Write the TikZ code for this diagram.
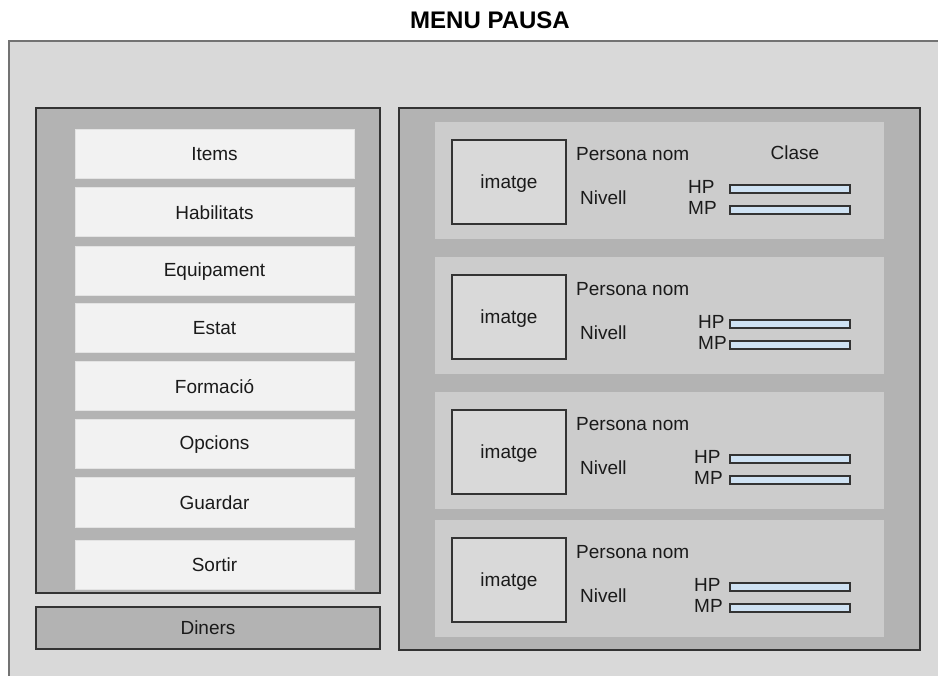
\documentclass[tikz,border=0pt]{standalone}
\usepackage{fontspec}
\setmainfont{Liberation Sans}
\definecolor{bgout}{HTML}{D9D9D9}
\definecolor{panel}{HTML}{B3B3B3}
\definecolor{btn}{HTML}{F2F2F2}
\definecolor{btnline}{HTML}{E3E3E3}
\definecolor{card}{HTML}{CCCCCC}
\definecolor{img}{HTML}{D9D9D9}
\definecolor{bar}{HTML}{CFE2F3}
\definecolor{ink}{HTML}{1A1A1A}
\definecolor{edge}{HTML}{333333}
\tikzset{
  txt/.style={font=\fontsize{19}{21}\selectfont, text=ink, inner sep=0pt},
  menubtn/.style={rectangle, fill=btn, draw=btnline, line width=1pt, minimum width=279pt, minimum height=49pt, inner sep=0pt, txt},
  panelbox/.style={fill=panel, draw=edge, line width=1.3pt},
  cardbox/.style={fill=card},
  imgbox/.style={fill=img, draw=edge, line width=1.3pt},
  barbox/.style={fill=bar, draw=edge, line width=1.2pt},
}
\begin{document}
\begin{tikzpicture}[x=1pt,y=-1pt]
\useasboundingbox (0,0) rectangle (938,676);
\fill[white] (0,0) rectangle (938,676);
% outer frame
\filldraw[fill=bgout, draw=gray!90!black, line width=2pt] (9,41) rectangle (950,690);
\node[txt, font=\fontsize{24}{26}\selectfont\bfseries, text=black] (title) at (490,20) {MENU PAUSA};
% left panel
\filldraw[panelbox] (36,108) rectangle (380,593);
\node[menubtn] (items) at (214.5,154.5) {Items};
\node[menubtn] (habilitats) at (214.5,212.5) {Habilitats};
\node[menubtn] (equipament) at (214.5,271.5) {Equipament};
\node[menubtn] (estat) at (214.5,328.5) {Estat};
\node[menubtn] (formacio) at (214.5,386.5) {Formació};
\node[menubtn] (opcions) at (214.5,444.5) {Opcions};
\node[menubtn] (guardar) at (214.5,502.5) {Guardar};
\node[menubtn] (sortir) at (214.5,564.5) {Sortir};
% diners
\node[panelbox, rectangle, minimum width=344pt, minimum height=42pt, inner sep=0pt, txt] (diners) at (208,628) {Diners};
% right panel
\filldraw[panelbox] (399,108) rectangle (920,650);
\foreach \i/\T/\hx in {1/122/688, 2/257/698, 3/392/694, 4/520/694}{
  \fill[cardbox] (435,\T) rectangle (884,\T+117);
  \node[imgbox, rectangle, minimum width=114pt, minimum height=84pt, inner sep=0pt] (img\i) at (509,\T+60) {};
  \node[txt] (imgtxt\i) at (509,\T+62) {imatge};
  \node[txt, anchor=west] (nom\i) at (576,\T+32) {Persona nom};
  \node[txt, anchor=west] (nivell\i) at (580,\T+76) {Nivell};
  \node[txt, anchor=west, align=left] (hpmp\i) at (\hx,\T+75) {HP\\MP};
  \filldraw[barbox] (730,\T+63) rectangle (850,\T+71);
  \filldraw[barbox] (730,\T+84) rectangle (850,\T+92);
}
\node[txt] (clase) at (795,153) {Clase};
\end{tikzpicture}
\end{document}
